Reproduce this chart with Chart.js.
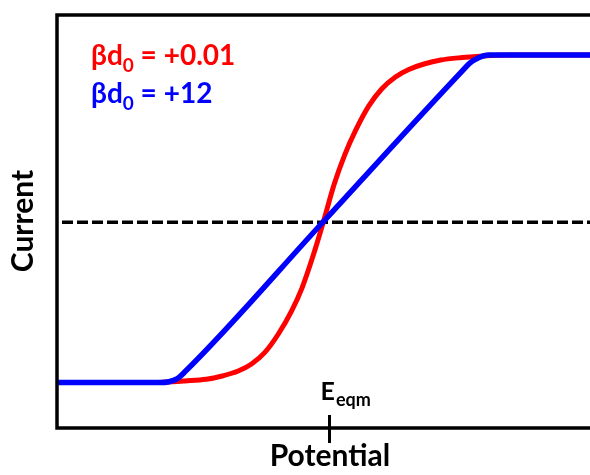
<!DOCTYPE html>
<html>
<head>
<meta charset="utf-8">
<script src="https://cdn.jsdelivr.net/npm/chart.js@4"></script>
<style>
  html, body { margin: 0; padding: 0; background: #fff; overflow: hidden; }
</style>
</head>
<body>
<canvas id="curva" width="590" height="475"></canvas>
<script>
// potential (arbitrary units) and current for the two curves
const redPotential  = [-5, -3.5, -3, -2.6, -2.2, -1.9, -1.6, -1.35, -1.1, -0.85, -0.6, -0.4, -0.2, 0, 0.2, 0.4, 0.6, 0.85, 1.1, 1.35, 1.6, 1.9, 2.2, 2.6, 3, 3.5, 5];
const redCurrent    = [1.1, 1.1, 1.11, 1.14, 1.18, 1.26, 1.38, 1.55, 1.83, 2.27, 2.83, 3.4, 4.15, 5.0, 5.9, 6.62, 7.2, 7.8, 8.22, 8.5, 8.68, 8.82, 8.91, 8.97, 9.01, 9.03, 9.03];
const bluePotential = [-5, -3.05, -2.9, -2.75, -2.6, 0, 2.6, 2.75, 2.9, 3.1, 5];
const blueCurrent   = [1.1, 1.1, 1.12, 1.19, 1.36, 5.0, 8.64, 8.84, 8.96, 9.03, 9.03];
const eqmPotential  = [-5, 5];
const eqmCurrent    = [4.98, 4.98];
const eqmTick = 0.1;

const legendLines = [
    { pre: 'βd', sub: '0', post: ' = +0.01', color: '#ff0000' },
    { pre: 'βd', sub: '0', post: ' = +12', color: '#0000ff' }
];

const FONT = 'Lato, "Open Sans", sans-serif';

function punti(xs, ys) {
    return xs.map((x, i) => ({ x: x, y: ys[i] }));
}

// frame, tick, labels and legend text
const cornicePlugin = {
    id: 'cornice',
    afterDatasetsDraw(chart) {
        const { ctx, chartArea } = chart;
        const xs = chart.scales.x;
        ctx.save();

        // left, top, bottom borders (right side runs off the canvas)
        ctx.strokeStyle = '#000';
        ctx.lineWidth = 3.5;
        ctx.lineCap = 'square';
        ctx.beginPath();
        ctx.moveTo(chartArea.right + 5, chartArea.top);
        ctx.lineTo(chartArea.left, chartArea.top);
        ctx.lineTo(chartArea.left, chartArea.bottom);
        ctx.lineTo(chartArea.right + 5, chartArea.bottom);
        ctx.stroke();

        // equilibrium tick
        const tx = Math.round(xs.getPixelForValue(eqmTick)) + 0.5;
        ctx.lineWidth = 3;
        ctx.lineCap = 'butt';
        ctx.beginPath();
        ctx.moveTo(tx, chartArea.bottom - 13);
        ctx.lineTo(tx, chartArea.bottom + 15);
        ctx.stroke();

        // E_eqm
        ctx.fillStyle = '#000';
        ctx.textBaseline = 'alphabetic';
        ctx.textAlign = 'left';
        ctx.font = 'bold 25px ' + FONT;
        ctx.fillText('E', tx - 9, 400);
        const wE = ctx.measureText('E').width;
        ctx.font = 'bold 18px ' + FONT;
        ctx.fillText('eqm', tx - 9 + wE + 1, 406);

        // axis titles
        ctx.font = 'bold 30px ' + FONT;
        ctx.textAlign = 'center';
        ctx.fillText('Potential', 330, 466);
        ctx.save();
        ctx.translate(33, 221);
        ctx.rotate(-Math.PI / 2);
        ctx.fillText('Current', 0, 0);
        ctx.restore();

        // legend
        ctx.textAlign = 'left';
        legendLines.forEach((l, i) => {
            const base = 65 + i * 38;
            let x = 91;
            ctx.fillStyle = l.color;
            ctx.font = 'bold 28px ' + FONT;
            ctx.fillText(l.pre, x, base);
            x += ctx.measureText(l.pre).width;
            ctx.font = 'bold 19px ' + FONT;
            ctx.fillText(l.sub, x, base + 7);
            x += ctx.measureText(l.sub).width;
            ctx.font = 'bold 28px ' + FONT;
            ctx.fillText(l.post, x, base);
        });

        ctx.restore();
    }
};

new Chart(document.getElementById('curva'), {
    type: 'scatter',
    data: {
        datasets: [
            {
                data: punti(bluePotential, blueCurrent),
                showLine: true,
                borderColor: '#0000ff',
                borderWidth: 5.5,
                pointRadius: 0,
                cubicInterpolationMode: 'monotone',
                order: 0
            },
            {
                data: punti(redPotential, redCurrent),
                showLine: true,
                borderColor: '#ff0000',
                borderWidth: 5,
                pointRadius: 0,
                cubicInterpolationMode: 'monotone',
                order: 1
            },
            {
                data: punti(eqmPotential, eqmCurrent),
                showLine: true,
                borderColor: '#000',
                borderWidth: 3.5,
                borderDash: [11, 4],
                borderDashOffset: -5,
                pointRadius: 0,
                order: 2
            }
        ]
    },
    options: {
        responsive: false,
        animation: false,
        layout: { padding: { left: 57, top: 15, right: 0, bottom: 47 } },
        plugins: {
            legend: { display: false },
            tooltip: { enabled: false }
        },
        scales: {
            x: { type: 'linear', min: -5, max: 5, display: false },
            y: { type: 'linear', min: 0, max: 10, display: false }
        }
    },
    plugins: [cornicePlugin]
});
</script>
</body>
</html>
